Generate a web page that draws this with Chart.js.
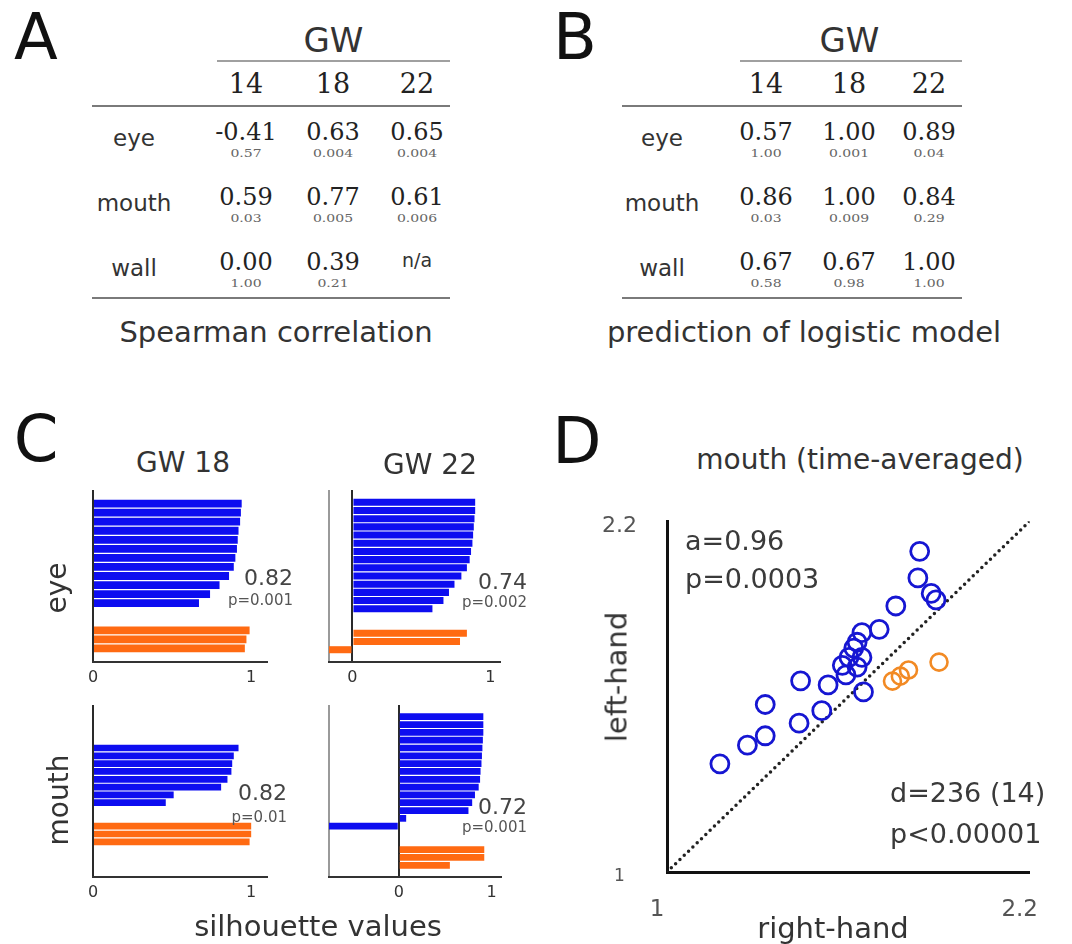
<!DOCTYPE html>
<html lang="en">
<head>
<meta charset="UTF-8">
<title>GW tables, silhouettes and handedness</title>
<script src="https://cdn.jsdelivr.net/npm/chart.js@4.4.1/dist/chart.umd.min.js"></script>
<style>
  * { box-sizing: border-box; }
  body { margin: 0; background: #fff; }
  #fig { position: relative; width: 1072px; height: 944px; overflow: hidden; font-family: "DejaVu Sans", sans-serif; color: #333; }
  #fig canvas { position: absolute; }
  .t { position: absolute; white-space: nowrap; line-height: 1; z-index: 2; }
  .rule { position: absolute; height: 2px; background: #8c8c8c; }
</style>
</head>
<body>
<div id="fig">
  <canvas id="silEye18" width="240" height="220" style="left:60px;top:480px"></canvas>
  <canvas id="silEye22" width="230" height="220" style="left:300px;top:480px"></canvas>
  <canvas id="silMouth18" width="240" height="220" style="left:60px;top:695px"></canvas>
  <canvas id="silMouth22" width="230" height="220" style="left:300px;top:695px"></canvas>
  <canvas id="handChart" width="492" height="466" style="left:580px;top:478px"></canvas>
</div>
<script>
// ---- tables A and B ----
const gwWeeks = ['14', '18', '22'];
const featureRows = ['eye', 'mouth', 'wall'];
const spearmanRho = [['-0.41', '0.63', '0.65'], ['0.59', '0.77', '0.61'], ['0.00', '0.39', 'n/a']];
const spearmanP = [['0.57', '0.004', '0.004'], ['0.03', '0.005', '0.006'], ['1.00', '0.21', '']];
const logisticPred = [['0.57', '1.00', '0.89'], ['0.86', '1.00', '0.84'], ['0.67', '0.67', '1.00']];
const logisticP = [['1.00', '0.001', '0.04'], ['0.03', '0.009', '0.29'], ['0.58', '0.98', '1.00']];

// ---- C: silhouette values (blue = face cluster, orange = other) ----
const silEye18Blue = [0.94, 0.935, 0.93, 0.92, 0.915, 0.91, 0.90, 0.89, 0.86, 0.80, 0.74, 0.67];
const silEye18Orange = [0.99, 0.97, 0.96];
const silEye22Blue = [0.89, 0.89, 0.885, 0.88, 0.875, 0.87, 0.86, 0.85, 0.83, 0.79, 0.74, 0.70, 0.66, 0.58];
const silEye22Orange = [0.83, 0.78, -0.18];
const silMouth18Blue = [0.92, 0.89, 0.88, 0.875, 0.85, 0.81, 0.51, 0.46];
const silMouth18Orange = [1.0, 1.0, 0.99];
const silMouth22Blue = [0.91, 0.91, 0.91, 0.905, 0.90, 0.895, 0.89, 0.88, 0.875, 0.86, 0.82, 0.79, 0.75, 0.08, -0.76];
const silMouth22Orange = [0.92, 0.92, 0.55];
const silMean = ['0.82', '0.74', '0.82', '0.72'];
const silP = ['p=0.001', 'p=0.002', 'p=0.01', 'p=0.001'];

// ---- D: mouth (time-averaged), right-hand vs left-hand ----
const rightBlue = [1.175, 1.266, 1.325, 1.325, 1.437, 1.442, 1.512, 1.533, 1.580, 1.602, 1.618, 1.629, 1.645, 1.645, 1.629, 1.650, 1.702, 1.757, 1.830, 1.836, 1.874, 1.890, 1.592];
const leftBlue  = [1.370, 1.434, 1.466, 1.573, 1.509, 1.654, 1.552, 1.640, 1.707, 1.734, 1.766, 1.786, 1.819, 1.734, 1.701, 1.616, 1.830, 1.910, 2.006, 2.097, 1.953, 1.931, 1.674];
const rightOrange = [1.746, 1.772, 1.799, 1.900];
const leftOrange  = [1.653, 1.670, 1.691, 1.718];

const BLUE = '#0d0df0';
const ORANGE = '#ff6a12';
const SANS = 'DejaVu Sans';
const SERIF = 'DejaVu Serif';
const fig = document.getElementById('fig');

function label(text, x, y, o) {
  o = o || {};
  const el = document.createElement('div');
  el.className = 't';
  el.textContent = text;
  el.style.left = x + 'px';
  el.style.top = y + 'px';
  el.style.fontSize = (o.size || 20) + 'px';
  el.style.fontFamily = o.family || SANS;
  el.style.color = o.color || '#333';
  const ax = o.align === 'right' ? '-100%' : o.align === 'left' ? '0' : '-50%';
  let tf = 'translate(' + ax + ', -50%)';
  if (o.rotate) tf += ' rotate(' + o.rotate + 'deg)';
  if (o.squash) tf += ' scaleY(' + o.squash + ')';
  el.style.transform = tf;
  fig.appendChild(el);
}

function rule(x1, x2, y, color) {
  const el = document.createElement('div');
  el.className = 'rule';
  el.style.left = x1 + 'px';
  el.style.width = (x2 - x1) + 'px';
  el.style.top = (y - 1) + 'px';
  if (color) el.style.background = color;
  fig.appendChild(el);
}

function table(letter, letterX, cols, labelX, lineL, lineR, gwL, values, pvals, caption, captionX) {
  label(letter, letterX, 37, { size: 64, color: '#111' });
  label('GW', (cols[0] + cols[2]) / 2 + 2, 40, { size: 34 });
  rule(gwL, lineR, 61, '#a0a0a0');
  gwWeeks.forEach((w, j) => label(w, cols[j], 83, { size: 27, family: SERIF, color: '#222' }));
  rule(lineL, lineR, 106, '#7a7a7a');
  const mainY = [132, 197, 262];
  featureRows.forEach((r, i) => {
    label(r, labelX, mainY[i] + 6, { size: 23 });
    gwWeeks.forEach((w, j) => {
      const v = values[i][j];
      if (v === 'n/a') label(v, cols[j], mainY[i] - 2, { size: 19 });
      else label(v, cols[j], mainY[i], { size: 24, family: SERIF, color: '#222' });
      if (pvals[i][j]) label(pvals[i][j], cols[j], mainY[i] + 21, { size: 14, family: SERIF, color: '#666', squash: 0.75 });
    });
  });
  rule(lineL, lineR, 298, '#7a7a7a');
  label(caption, captionX, 332, { size: 29 });
}

table('A', 36, [246, 333, 417], 134, 92, 450, 217, spearmanRho, spearmanP, 'Spearman correlation', 276);
table('B', 575, [766, 849, 929], 662, 622, 962, 740, logisticPred, logisticP, 'prediction of logistic model', 804);

// ---- panel C ----
function buildSlots(blue, orange, pads) {
  const n = pads[0] + blue.length + pads[1] + orange.length + pads[2];
  const b = new Array(n).fill(null);
  const o = new Array(n).fill(null);
  blue.forEach((v, i) => { b[pads[0] + i] = v; });
  orange.forEach((v, i) => { o[pads[0] + blue.length + pads[1] + i] = v; });
  return { labels: b.map((_, i) => 'sample ' + (i + 1)), b: b, o: o };
}

function silhouetteChart(id, blue, orange, pads, xMin, xMax, padL, padR) {
  const s = buildSlots(blue, orange, pads);
  const tickVals = xMin < 0 ? [xMin, 0, 1] : [0, 1];
  return new Chart(document.getElementById(id), {
    type: 'bar',
    data: {
      labels: s.labels,
      datasets: [
        { data: s.b, backgroundColor: BLUE, grouped: false, barPercentage: 0.86, categoryPercentage: 1 },
        { data: s.o, backgroundColor: ORANGE, grouped: false, barPercentage: 0.86, categoryPercentage: 1 }
      ]
    },
    options: {
      indexAxis: 'y',
      responsive: false,
      animation: false,
      events: [],
      layout: { padding: { left: padL, right: padR, top: 10, bottom: 0 } },
      plugins: { legend: { display: false }, tooltip: { enabled: false } },
      scales: {
        y: { display: false },
        x: {
          min: xMin,
          max: xMax,
          afterBuildTicks: sc => { sc.ticks = tickVals.map(v => ({ value: v })); },
          afterFit: sc => { sc.height = 38; },
          ticks: {
            padding: 6,
            color: '#333',
            font: { family: SANS, size: 16 },
            callback: v => (v === 0 || v === 1) ? String(v) : ''
          },
          grid: {
            drawTicks: false,
            lineWidth: 2,
            color: c => {
              if (!c.tick) return 'rgba(0,0,0,0)';
              if (c.tick.value === 0) return '#2a2a2a';
              if (c.tick.value < 0) return '#9a9a9a';
              return 'rgba(0,0,0,0)';
            }
          },
          border: { color: '#333', width: 2 }
        }
      }
    }
  });
}

silhouetteChart('silEye18', silEye18Blue, silEye18Orange, [1, 2, 1], 0, 1.1, 33, 33);
silhouetteChart('silEye22', silEye22Blue, silEye22Orange, [1, 2, 1], -0.17, 1.07, 29, 30);
silhouetteChart('silMouth18', silMouth18Blue, silMouth18Orange, [5, 2, 4], 0, 1.1, 33, 33);
silhouetteChart('silMouth22', silMouth22Blue, silMouth22Orange, [1, 2, 1], -0.75, 1.1, 29, 29);

label('C', 36, 439, { size: 64, color: '#111' });
label('GW 18', 183, 463, { size: 28 });
label('GW 22', 430, 465, { size: 28 });
label('eye', 57, 588, { size: 28, rotate: -90 });
label('mouth', 59, 800, { size: 28, rotate: -90 });
label('silhouette values', 318, 926, { size: 29 });
const annot = [[293, 578, 600], [527, 582, 602], [287, 793, 817], [527, 807, 827]];
annot.forEach((a, i) => {
  label(silMean[i], a[0], a[1], { size: 22, align: 'right', color: '#444' });
  label(silP[i], a[0], a[2], { size: 15, align: 'right', color: '#555' });
});

// ---- panel D ----
const toPts = (xs, ys) => xs.map((x, i) => ({ x: x, y: ys[i] }));
const onlyTwo = sc => { sc.ticks = [1, 2.2].map(v => ({ value: v })); };

new Chart(document.getElementById('handChart'), {
  type: 'scatter',
  data: {
    datasets: [
      {
        data: toPts(rightBlue, leftBlue),
        pointStyle: 'circle', pointRadius: 9, pointBorderWidth: 2.8,
        pointBorderColor: '#1616d2', pointBackgroundColor: 'rgba(0,0,0,0)'
      },
      {
        data: toPts(rightOrange, leftOrange),
        pointStyle: 'circle', pointRadius: 8.5, pointBorderWidth: 2.6,
        pointBorderColor: '#f28a24', pointBackgroundColor: 'rgba(0,0,0,0)'
      },
      {
        type: 'line',
        data: [{ x: 1, y: 1 }, { x: 2.2, y: 2.2 }],
        borderColor: '#222', borderWidth: 3.5, borderDash: [0, 6], borderCapStyle: 'round',
        pointRadius: 0, fill: false
      }
    ]
  },
  options: {
    responsive: false,
    animation: false,
    events: [],
    layout: { padding: { left: 0, right: 30, top: 20, bottom: 0 } },
    plugins: { legend: { display: false }, tooltip: { enabled: false } },
    scales: {
      x: {
        type: 'linear', min: 1, max: 2.2,
        afterBuildTicks: onlyTwo,
        afterFit: sc => { sc.height = 72; },
        grid: { display: false, drawTicks: false },
        border: { color: '#111', width: 3 },
        ticks: { padding: 24, labelOffset: -10, color: '#555', font: { family: SANS, size: 23 }, callback: v => String(v) }
      },
      y: {
        type: 'linear', min: 1, max: 2.2,
        afterBuildTicks: onlyTwo,
        afterFit: sc => { sc.width = 87; },
        grid: { display: false, drawTicks: false },
        border: { color: '#111', width: 3 },
        ticks: {
          padding: 30, crossAlign: 'center', labelOffset: 5, color: '#555',
          font: c => ({ family: SANS, size: c.tick && c.tick.value === 1 ? 17 : 22 }),
          callback: v => String(v)
        }
      }
    }
  }
});

label('D', 577, 441, { size: 64, color: '#111' });
label('mouth (time-averaged)', 860, 460, { size: 28 });
label('left-hand', 617, 677, { size: 29, rotate: -90 });
label('right-hand', 833, 928, { size: 29 });
label('a=0.96', 685, 540, { size: 27, align: 'left', color: '#3a3a3a' });
label('p=0.0003', 685, 578, { size: 27, align: 'left', color: '#3a3a3a' });
label('d=236 (14)', 890, 792, { size: 27, align: 'left', color: '#3a3a3a' });
label('p<0.00001', 890, 833, { size: 27, align: 'left', color: '#3a3a3a' });
</script>
</body>
</html>
